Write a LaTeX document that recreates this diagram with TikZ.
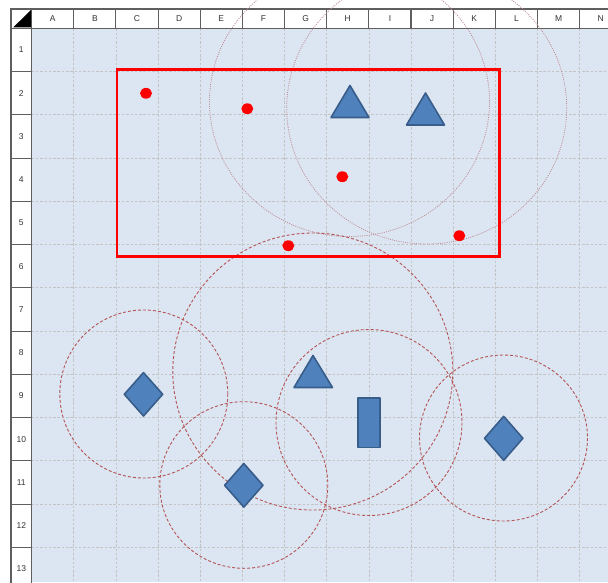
\documentclass[tikz,border=0pt]{standalone}
\usepackage{fontspec}
\setmainfont{Liberation Sans}
\definecolor{sheetbg}{RGB}{220,230,242}
\definecolor{gridc}{RGB}{196,196,198}
\definecolor{hdrline}{RGB}{95,95,95}
\definecolor{shapefill}{RGB}{79,129,189}
\definecolor{shapeline}{RGB}{56,93,138}
\definecolor{ringtop}{RGB}{190,140,150}
\definecolor{ringlow}{RGB}{180,84,84}
\definecolor{marker}{RGB}{255,0,0}
\tikzset{
  gridline/.style={gridc, line width=0.75pt, dash pattern=on 2.5pt off 1.8pt},
  hdrcell/.style={draw=hdrline, line width=1.1pt, fill=white},
  hdrtext/.style={font=\fontsize{8.5}{9}\selectfont, text=black!80, inner sep=0pt},
  ringdot/.style={ringtop, line width=0.8pt, dash pattern=on 1pt off 1.2pt},
  ringdash/.style={ringlow, line width=0.9pt, dash pattern=on 3pt off 2pt},
  bluething/.style={fill=shapefill, draw=shapeline, line width=1.6pt, line join=round},
  reddot/.style={fill=marker},
  frame/.style={draw=marker, line width=2.4pt}
}
\begin{document}
\begin{tikzpicture}[x=1pt,y=-1pt]
\useasboundingbox (0,0) rectangle (608,582);
\clip (0,0) rectangle (608,582);
\fill[white] (0,0) rectangle (608,582);
% sheet area
\fill[sheetbg] (31.6,28.3) rectangle (608,582);
% grid
\foreach \i in {1,...,13} {
  \draw[gridline] ({31.6+42.16*\i},28.3) -- ({31.6+42.16*\i},582);
}
\foreach \j in {1,...,13} {
  \draw[gridline] (31.6,{28.3+43.25*\j}) -- (608,{28.3+43.25*\j});
}
% column headers
\foreach \c [count=\i from 0] in {A,B,C,D,E,F,G,H,I,J,K,L,M,N} {
  \draw[hdrcell] ({31.6+42.16*\i},9) rectangle ({31.6+42.16*(\i+1)},28.3);
  \node[hdrtext] (col\c) at ({31.6+42.16*(\i+0.5)},18.8) {\c};
}
% row headers
\foreach \r in {1,...,13} {
  \draw[hdrcell] (11,{28.3+43.25*(\r-1)}) rectangle (31.6,{28.3+43.25*\r});
  \node[hdrtext] (row\r) at (21.3,{28.3+43.25*(\r-0.5)}) {\r};
}
% corner
\draw[hdrcell] (11,9) rectangle (31.6,28.3);
\fill[black] (13.3,27.3) -- (31,10) -- (31,27.3) -- cycle;
% rings
\draw[ringdot] (349.5,101.5) ellipse [x radius=140, y radius=135];
\draw[ringdot] (426.7,108) ellipse [x radius=140, y radius=136];
\draw[ringdash] (312.8,371.5) ellipse [x radius=140, y radius=138.5];
\draw[ringdash] (143.8,394) circle [radius=84];
\draw[ringdash] (243.8,485) ellipse [x radius=84, y radius=83.3];
\draw[ringdash] (369,422.5) circle [radius=93];
\draw[ringdash] (503.5,438) ellipse [x radius=84, y radius=83];
% blue shapes
\draw[bluething] (350,85.5) -- (331,117.5) -- (369,117.5) -- cycle;
\draw[bluething] (425.5,93) -- (406.5,125) -- (444.5,125) -- cycle;
\draw[bluething] (313,355.5) -- (294,387.5) -- (332.5,387.5) -- cycle;
\draw[bluething] (357.7,398) rectangle (380,447.3);
\draw[bluething] (143.5,372.6) -- (162.7,394.3) -- (143.5,416) -- (124.3,394.3) -- cycle;
\draw[bluething] (243.8,463.5) -- (263,485.3) -- (243.8,507.1) -- (224.6,485.3) -- cycle;
\draw[bluething] (503.7,416.3) -- (522.9,438.3) -- (503.7,460.3) -- (484.5,438.3) -- cycle;
% red dots
\fill[reddot] (146,93.3) ellipse [x radius=6, y radius=5.4];
\fill[reddot] (247.3,108.7) ellipse [x radius=6, y radius=5.4];
\fill[reddot] (342.3,176.7) ellipse [x radius=6, y radius=5.4];
\fill[reddot] (459.3,235.7) ellipse [x radius=6, y radius=5.4];
\fill[reddot] (288.3,245.7) ellipse [x radius=6, y radius=5.4];
% red frame
\draw[frame] (116.7,69.3) rectangle (499.3,256.5);
\end{tikzpicture}
\end{document}
